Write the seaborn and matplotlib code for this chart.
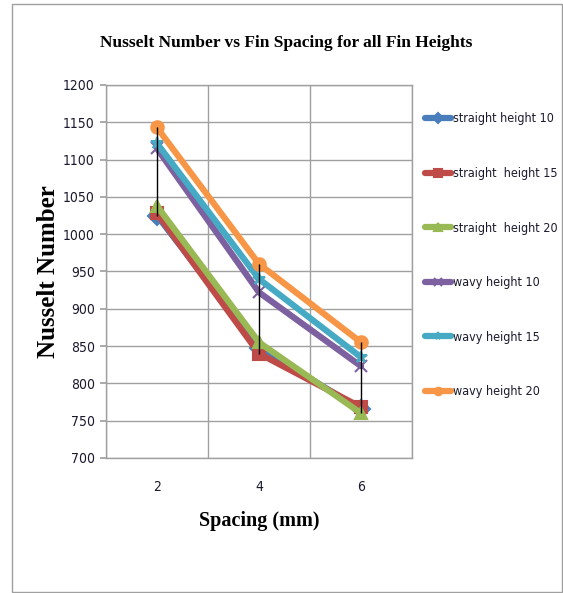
import matplotlib
matplotlib.use("Agg")
import matplotlib.pyplot as plt
import seaborn as sns
import pandas as pd
from matplotlib.patches import Rectangle

spacing = ["2", "4", "6"]
series_names = ["straight height 10", "straight  height 15", "straight  height 20",
                "wavy height 10", "wavy height 15", "wavy height 20"]
straight_10 = [1025, 848, 765]
straight_15 = [1028, 840, 768]
straight_20 = [1038, 855, 760]
wavy_10 = [1115, 922, 823]
wavy_15 = [1122, 940, 835]
wavy_20 = [1143, 960, 855]
values = [straight_10, straight_15, straight_20, wavy_10, wavy_15, wavy_20]
yticks = [700, 750, 800, 850, 900, 950, 1000, 1050, 1100, 1150, 1200]

colors = ["#4A7EBB", "#BE4B48", "#98B954", "#7D60A0", "#46AAC5", "#F79646"]
markers = ["D", "s", "^", "x", "*", "o"]

sns.set_theme(style="white")
plt.rcParams["font.family"] = ["DejaVu Sans"]
plt.rcParams["font.stretch"] = "condensed"

fig = plt.figure(figsize=(5.63, 5.93), dpi=100)
ax = fig.add_axes([0.188, 0.2277, 0.544, 0.629])

for name, vals, c, m in zip(series_names, values, colors, markers):
    d = pd.DataFrame({"Spacing": spacing, "Nusselt": vals})
    sns.lineplot(data=d, x="Spacing", y="Nusselt", color=c, marker=m,
                 linewidth=4.5, markersize=9, markeredgewidth=1.5,
                 markeredgecolor=c, sort=False, ax=ax, label=name)

# high-low lines
lows = [min(v[i] for v in values) for i in range(len(spacing))]
highs = [max(v[i] for v in values) for i in range(len(spacing))]
ax.vlines(spacing, lows, highs, colors="black", linewidth=1, zorder=5)

ax.set_xlim(-0.5, 2.5)
ax.set_ylim(700, 1200)
ax.set_yticks(yticks)
ax.set_xticks([-0.5, 0.5, 1.5, 2.5], minor=True)
ax.grid(True, axis="y", which="major", color="#A0A0A0", linewidth=1)
ax.grid(True, axis="x", which="minor", color="#A0A0A0", linewidth=1)
ax.grid(False, axis="x", which="major")
for sp in ax.spines.values():
    sp.set_visible(True)
    sp.set_color("#A0A0A0")
    sp.set_linewidth(1)
ax.tick_params(axis="y", which="major", left=True, length=4, color="#A0A0A0",
               labelsize=10, labelcolor="#1a1a2e", pad=4)
ax.tick_params(axis="x", which="major", bottom=False, labelsize=10,
               labelcolor="#1a1a2e", pad=10)
ax.tick_params(axis="x", which="minor", bottom=False)

ax.set_xlabel("Spacing (mm)", fontfamily="Liberation Serif", fontweight="bold",
              fontsize=14.5, labelpad=12, color="black")
ax.set_ylabel("Nusselt Number", fontfamily="Liberation Serif", fontweight="bold",
              fontsize=18, labelpad=2, color="black")
fig.text(0.508, 0.928, "Nusselt Number vs Fin Spacing for all Fin Heights",
         ha="center", va="center", fontfamily="Liberation Serif",
         fontweight="bold", fontsize=12.5, color="black")

handles, labels = ax.get_legend_handles_labels()
leg = ax.legend(handles, labels, loc="upper left", bbox_to_anchor=(1.025, 0.94),
                frameon=False, fontsize=9, labelspacing=3.33, handlelength=2.1,
                handletextpad=0.15, borderaxespad=0, markerscale=0.6)
for t in leg.get_texts():
    t.set_color("#1a1a2e")

fig.add_artist(Rectangle((12 / 563, 1 - 592 / 593), 550 / 563, 588 / 593,
                         transform=fig.transFigure, fill=False,
                         edgecolor="#A0A0A0", linewidth=1))

fig.savefig("out.png", dpi=100, facecolor="white")
